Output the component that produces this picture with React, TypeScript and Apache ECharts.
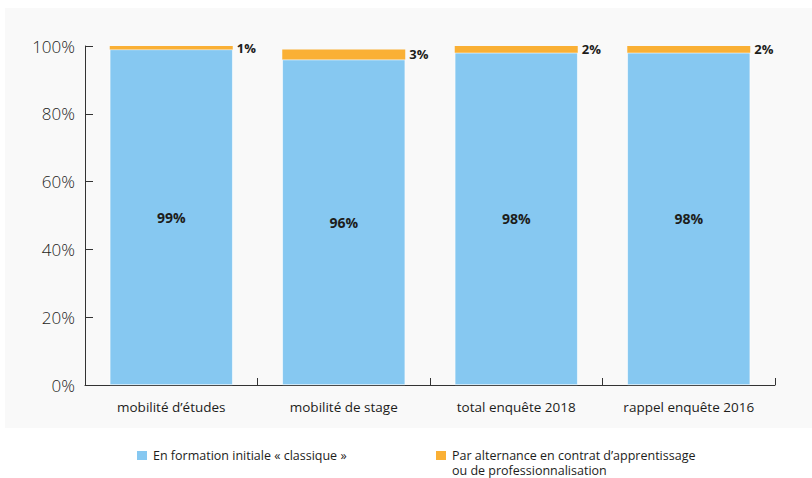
import React, { useEffect, useRef } from "react";
import * as echarts from "echarts";

const categories = ["mobilité d’études", "mobilité de stage", "total enquête 2018", "rappel enquête 2016"];
const seriesNames = ["En formation initiale « classique »", "Par alternance en contrat d’apprentissage\nou de professionnalisation"];
const classiqueValues = [99, 96, 98, 98];
const alternanceValues = [1, 3, 2, 2];
const yTicks = [0, 20, 40, 60, 80, 100];

const FONT = "'Open Sans', Lato, sans-serif";
const BLUE = "#86C8F1";
const ORANGE = "#FAB035";
const TEXT = "#1d1d1b";

export default function App() {
  const ref = useRef<HTMLDivElement>(null);
  useEffect(() => {
    document.body.style.margin = "0";
    const chart = echarts.init(ref.current!, null, { renderer: "svg" });
    const legendItem = (x: number, color: string, name: string) => ({
      type: "group",
      left: x,
      top: 449,
      children: [
        { type: "rect", shape: { x: 0, y: 0, width: 10, height: 9 }, style: { fill: color } },
        ...name.split("\n").map((line, i) => ({
          type: "text",
          x: 16,
          y: 4.5 + i * 15,
          style: { text: line, fill: TEXT, font: `12.5px ${FONT}`, verticalAlign: "middle" },
        })),
      ],
    });
    chart.setOption({
      animation: false,
      backgroundColor: "#ffffff",
      textStyle: { fontFamily: FONT },
      graphic: [
        { type: "rect", z: -10, shape: { x: 5, y: 8, width: 807, height: 420 }, style: { fill: "#f9f9f9" } },
        legendItem(137, BLUE, seriesNames[0]),
        legendItem(436, ORANGE, seriesNames[1]),
      ],
      grid: { left: 85, right: 37, top: 46, bottom: 93, containLabel: false },
      xAxis: {
        type: "category",
        data: categories,
        axisLine: { lineStyle: { color: "#333", width: 1 } },
        axisTick: { show: true, inside: true, length: 7, lineStyle: { color: "#333" } },
        axisLabel: { color: TEXT, fontSize: 13.5, margin: 15, fontFamily: FONT },
      },
      yAxis: {
        type: "value",
        min: yTicks[0],
        max: yTicks[yTicks.length - 1],
        interval: 20,
        axisLine: { show: true, lineStyle: { color: "#333", width: 1 } },
        axisTick: { show: true, inside: true, length: 8, lineStyle: { color: "#333" } },
        splitLine: { show: false },
        axisLabel: { color: TEXT, fontSize: 17, fontWeight: 300, margin: 10, formatter: "{value}%", fontFamily: FONT },
      },
      series: [
        {
          name: seriesNames[0],
          type: "bar",
          stack: "total",
          barWidth: 123,
          data: classiqueValues,
          itemStyle: { color: BLUE, borderColor: "#ffffff", borderWidth: 0.6 },
          label: {
            show: true,
            position: "inside",
            formatter: "{c}%",
            color: TEXT,
            fontSize: 14,
            fontWeight: "bold",
            fontFamily: FONT,
          },
        },
        {
          name: seriesNames[1],
          type: "bar",
          stack: "total",
          barWidth: 123,
          data: alternanceValues,
          itemStyle: { color: ORANGE },
          label: {
            show: true,
            position: "right",
            distance: 4,
            formatter: "{c}%",
            color: TEXT,
            fontSize: 13,
            fontWeight: "bold",
            fontFamily: FONT,
          },
        },
      ],
    });
    return () => chart.dispose();
  }, []);
  return <div ref={ref} style={{ width: 812, height: 478 }} />;
}
